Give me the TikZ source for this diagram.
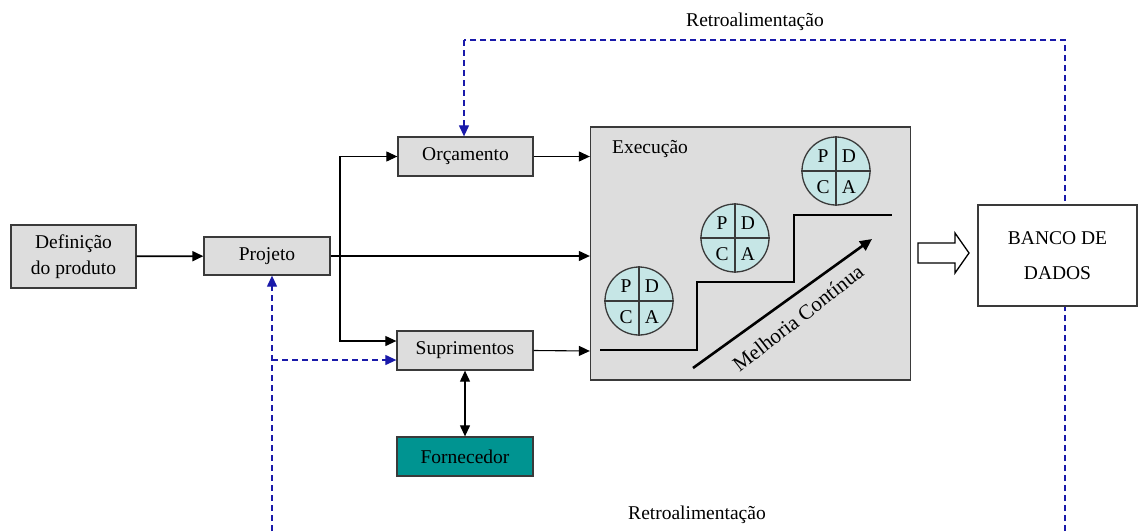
\documentclass[tikz,border=0pt]{standalone}
\usepackage{fontspec}
\setmainfont{Liberation Serif}
\usetikzlibrary{arrows.meta}
\definecolor{boxgray}{HTML}{DDDDDD}
\definecolor{boxline}{HTML}{3A3A3A}
\definecolor{pdcafill}{HTML}{C6E6E6}
\definecolor{tealfill}{HTML}{009491}
\definecolor{fbblue}{HTML}{1A1AAA}
\tikzset{
  procbox/.style={draw=boxline, line width=1.3pt, fill=boxgray, inner sep=0pt,
    font=\fontsize{19.5}{23}\selectfont, align=center},
  flow/.style={draw=black, line width=1.1pt, -{Triangle[length=11pt,width=10pt]}},
  feedback/.style={draw=fbblue, line width=1.2pt, dash pattern=on 6pt off 4pt},
  fbarrow/.style={feedback, -{Triangle[length=11pt,width=10pt]}},
  txt/.style={font=\fontsize{19.5}{23}\selectfont, inner sep=0pt},
}
\newcommand{\pdcaunit}[2]{%
  \begin{scope}[shift={(#1)}]
    \node[circle, draw=boxline, line width=1.3pt, fill=pdcafill, minimum size=68pt, inner sep=0pt] (#2) at (0,0) {};
    \draw[boxline, line width=1.3pt] (#2.north) -- (#2.south) (#2.west) -- (#2.east);
    \node[txt] at (-13,-15) {P};
    \node[txt] at (13,-15) {D};
    \node[txt] at (-13,16) {C};
    \node[txt] at (13,16) {A};
  \end{scope}}
\begin{document}
\begin{tikzpicture}[x=1pt, y=-1pt]
\useasboundingbox (0,0) rectangle (1138,531);

% main process boxes
\node[procbox, minimum width=125pt, minimum height=63pt] (def) at (73.5,256.5) {Definição\\[3pt]do produto};
\node[procbox, minimum width=126pt, minimum height=38pt] (proj) at (267,256) {Projeto};
\node[procbox, minimum width=135pt, minimum height=39pt] (orc) at (465.5,156.5) {Orçamento};
\node[procbox, minimum width=136pt, minimum height=39pt] (sup) at (465,350.5) {Suprimentos};
\node[procbox, fill=tealfill, minimum width=136pt, minimum height=39pt] (forn) at (465,456.5) {Fornecedor};

% feedback loops
\coordinate (topR) at (1065,40);
\coordinate (topL) at (464,40);
\coordinate (botR) at (1065,531);
\coordinate (botL) at (272,531);
\coordinate (branch) at (272,360);
\draw[feedback] (botR) -- (topR) -- (topL);
\draw[fbarrow] (topL) -- (orc.north -| topL);
\draw[fbarrow] (botL) -- (proj.south -| botL);
\draw[fbarrow] (branch) -- (sup.west |- branch);
\node[txt] (fbtop) at (755,22) {Retroalimentação};
\node[txt] (fbbot) at (697,515) {Retroalimentação};

% database
\node[procbox, fill=white, minimum width=159pt, minimum height=101pt] (banco) at (1057.5,255.5) {BANCO DE\\[12pt]DADOS};

% execution block
\node[procbox, minimum width=320pt, minimum height=253pt] (exec) at (750.5,253.5) {};
\node[txt] (exectitle) at (650,149) {Execução};
\draw[black, line width=1.2pt] (600,350) -- (697,350) -- (697,282) -- (794,282) -- (794,215) -- (892,215);
\pdcaunit{639,301}{pdca1}
\pdcaunit{735,238}{pdca2}
\pdcaunit{836,171}{pdca3}
\coordinate (mcA) at (693,368);
\coordinate (mcB) at (872,239);
\draw[line width=2.6pt, -{Triangle[length=12pt,width=11pt]}] (mcA) -- (mcB);
\node[font=\fontsize{21}{25}\selectfont, inner sep=0pt, rotate=38] (mctext) at (798,318) {Melhoria Contínua};

% hollow output arrow towards the database
\draw[black, line width=1.3pt, fill=white, line join=miter]
  (918,243) -- (955,243) -- (955,233) -- (969,253) -- (955,273) -- (955,263) -- (918,263) -- cycle;

% flow connectors
\coordinate (split) at (340,256);
\draw[flow, line width=1.8pt] (def) -- (proj);
\draw[line width=1.1pt] (proj.east) -- (split);
\draw[flow] (split) |- (orc.west);
\draw[flow] (split) |- (sup.west |- 0,341);
\draw[flow] (split) -- (exec.west |- split);
\draw[flow] (orc.east) -- (exec.west |- orc.east);
\draw[flow] (sup.east) -- (exec.west |- 0,351);
\draw[line width=1.1pt, {Triangle[length=11pt,width=10pt]}-{Triangle[length=11pt,width=10pt]}] (sup.south) -- (forn.north);
\end{tikzpicture}
\end{document}
